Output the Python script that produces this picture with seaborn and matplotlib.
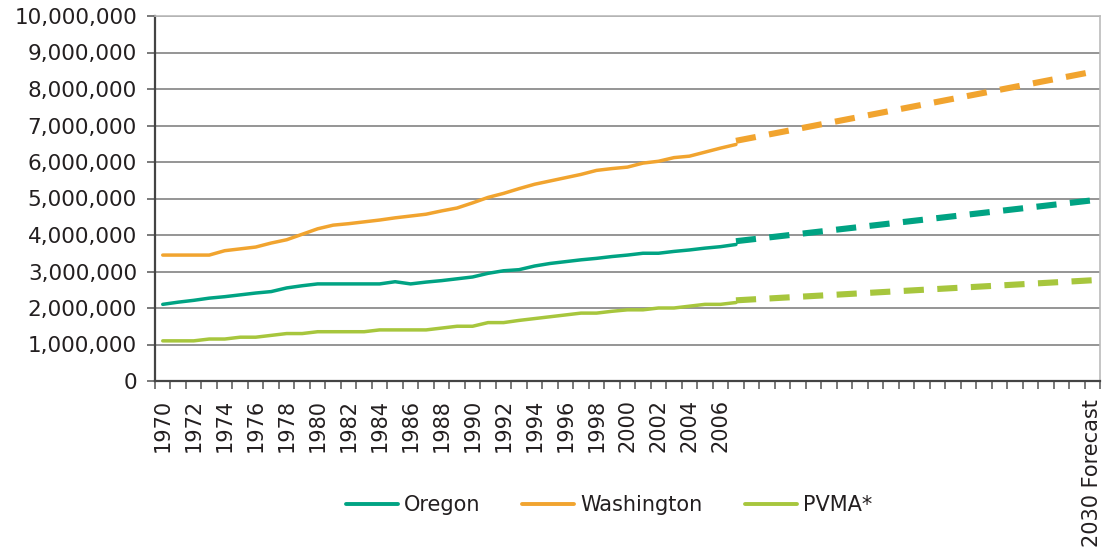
import numpy as np
import pandas as pd
import matplotlib
matplotlib.use("Agg")
import matplotlib.pyplot as plt
import seaborn as sns
from matplotlib.ticker import FuncFormatter

# ---------------- data ----------------
regions = ["Oregon", "Washington", "PVMA*"]
years = list(range(1970, 2008))
oregon = [2.10, 2.16, 2.21, 2.27, 2.31, 2.36, 2.41, 2.45, 2.55, 2.61,
          2.66, 2.66, 2.66, 2.66, 2.66, 2.72, 2.66, 2.71, 2.75, 2.80,
          2.85, 2.95, 3.02, 3.05, 3.15, 3.22, 3.27, 3.32, 3.36, 3.41,
          3.45, 3.50, 3.50, 3.55, 3.59, 3.64, 3.68, 3.74]
washington = [3.45, 3.45, 3.45, 3.45, 3.57, 3.62, 3.67, 3.78, 3.87, 4.02,
              4.17, 4.27, 4.31, 4.36, 4.41, 4.47, 4.52, 4.57, 4.66, 4.74,
              4.88, 5.03, 5.14, 5.27, 5.39, 5.48, 5.57, 5.66, 5.77, 5.82,
              5.86, 5.97, 6.02, 6.12, 6.16, 6.27, 6.38, 6.48]
pvma = [1.10, 1.10, 1.10, 1.15, 1.15, 1.20, 1.20, 1.25, 1.30, 1.30,
        1.35, 1.35, 1.35, 1.35, 1.40, 1.40, 1.40, 1.40, 1.45, 1.50,
        1.50, 1.60, 1.60, 1.66, 1.71, 1.76, 1.81, 1.86, 1.86, 1.91,
        1.95, 1.95, 2.00, 2.00, 2.05, 2.10, 2.10, 2.15]
forecast_years = [2007, 2030]
oregon_fc = [3.83, 4.95]
washington_fc = [6.58, 8.47]
pvma_fc = [2.21, 2.76]

tick_years = list(range(1970, 2007, 2)) + [2030]
tick_labels = [str(y) for y in range(1970, 2007, 2)] + ["2030 Forecast"]

colors = {"Oregon": "#00A383", "Washington": "#F1A42F", "PVMA*": "#A7C63D"}

# ---------------- frames ----------------
hist = pd.DataFrame({
    "Year": years * 3,
    "Population": np.array(oregon + washington + pvma) * 1e6,
    "Region": [r for r in regions for _ in years],
})
fc = pd.DataFrame({
    "Year": forecast_years * 3,
    "Population": np.array(oregon_fc + washington_fc + pvma_fc) * 1e6,
    "Region": [r for r in regions for _ in forecast_years],
})

# ---------------- style ----------------
sns.set_theme(style="white")
plt.rcParams["font.family"] = ["DejaVu Sans"]
text_color = "#231F20"

fig = plt.figure(figsize=(11.07, 5.54), dpi=100)
ax = fig.add_axes([155 / 1107, 1 - 381 / 554, (1100 - 155) / 1107, (381 - 16) / 554])

sns.lineplot(data=hist, x="Year", y="Population", hue="Region", hue_order=regions,
             palette=colors, linewidth=2.5, ax=ax, legend=True)
n_before = len(ax.lines)
sns.lineplot(data=fc, x="Year", y="Population", hue="Region", hue_order=regions,
             palette=colors, linewidth=4.4, ax=ax, legend=False)
for ln in ax.lines[n_before:]:
    ln.set_dashes((3.3, 2.2))
    ln.set_dash_capstyle("butt")

# axes limits & grid
ax.set_xlim(1969.5, 2030.5)
ax.set_ylim(0, 10_000_000)
ax.set_yticks(np.arange(0, 10_000_001, 1_000_000))
ax.yaxis.set_major_formatter(FuncFormatter(lambda v, p: f"{v:,.0f}"))
ax.set_axisbelow(True)
ax.yaxis.grid(True, color="#8C8C8C", linewidth=1.3)
ax.xaxis.grid(False)

ax.set_xticks(tick_years)
ax.set_xticklabels(tick_labels, rotation=90, va="top", ha="center")
ax.set_xticks(np.arange(1969.5, 2031, 1), minor=True)
ax.tick_params(axis="x", which="major", length=0, pad=13, labelsize=15, labelcolor=text_color)
ax.tick_params(axis="x", which="minor", bottom=True, length=5.5, width=1.1, color="#555555")
ax.tick_params(axis="y", which="major", left=True, length=6, width=1.1, color="#555555",
               pad=7, labelsize=15.5, labelcolor=text_color)

ax.set_xlabel("")
ax.set_ylabel("")

for side in ["left", "bottom"]:
    ax.spines[side].set_color("#444444")
    ax.spines[side].set_linewidth(1.6)
ax.spines["right"].set_color("#BBBBBB")
ax.spines["right"].set_linewidth(1.2)
ax.spines["top"].set_color("#BBBBBB")
ax.spines["top"].set_linewidth(1.2)

# legend
handles, labels = ax.get_legend_handles_labels()
old = ax.get_legend()
if old is not None:
    old.remove()
pairs = [(h, l) for h, l in zip(handles, labels) if l in regions]
leg = ax.legend([p[0] for p in pairs], [p[1] for p in pairs], loc="center",
                bbox_to_anchor=(609 / 1107, 1 - 505 / 554), bbox_transform=fig.transFigure,
                ncol=3, frameon=False, fontsize=15, handlelength=2.5, handletextpad=0.3,
                columnspacing=2.0)
for t in leg.get_texts():
    t.set_color(text_color)
for h in leg.legend_handles:
    h.set_linewidth(2.8)

fig.savefig("out.png", dpi=100)
